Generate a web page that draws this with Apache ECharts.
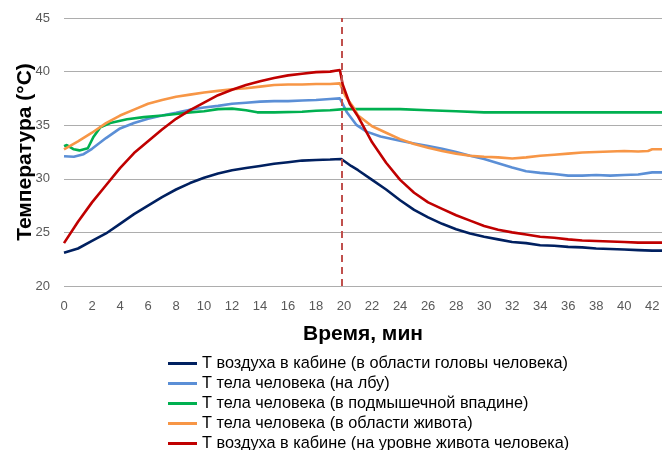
<!DOCTYPE html>
<html>
<head>
<meta charset="utf-8">
<script src="https://cdn.jsdelivr.net/npm/echarts@6/dist/echarts.min.js"></script>
<style>
  html, body { margin: 0; padding: 0; background: #fff; }
  #chart { width: 662px; height: 450px; }
</style>
</head>
<body>
<div id="chart"></div>
<script>
// Время (мин) и температура (°C) по каждому датчику
const airHead = [
  [0,23.1],[1,23.5],[2,24.2],[3,24.9],[4,25.8],[5,26.7],[6,27.5],[7,28.3],[8,29.0],[9,29.6],
  [10,30.1],[11,30.5],[12,30.8],[13,31.0],[14,31.2],[15,31.4],[16,31.55],[17,31.7],[18,31.75],[19,31.8],
  [19.8,31.85],[20.5,31.2],[21,30.8],[22,29.9],[23,29.0],[24,28.0],[25,27.1],[26,26.4],[27,25.8],[28,25.3],
  [29,24.9],[30,24.6],[31,24.35],[32,24.1],[33,24.0],[34,23.8],[35,23.75],[36,23.65],[37,23.6],[38,23.5],
  [39,23.45],[40,23.4],[41,23.35],[42,23.3],[42.7,23.3]
];
const bodyForehead = [
  [0,32.1],[0.7,32.05],[1.4,32.3],[2,32.8],[3,33.8],[4,34.7],[5,35.2],[6,35.6],[7,35.9],[8,36.15],
  [9,36.45],[10,36.65],[11,36.8],[12,37.0],[13,37.1],[14,37.2],[15,37.25],[16,37.25],[17,37.3],[18,37.35],
  [19,37.45],[19.7,37.5],[20.2,36.2],[20.9,35.0],[21.6,34.4],[22.6,33.95],[24,33.55],[25,33.3],[26,33.05],[27,32.8],
  [28,32.5],[29,32.15],[30,31.85],[31,31.45],[32,31.05],[33,30.7],[34,30.55],[35,30.45],[36,30.3],[37,30.3],
  [38,30.35],[39,30.3],[40,30.35],[41,30.4],[42,30.6],[42.7,30.6]
];
const bodyArmpit = [
  [0,33.05],[0.2,33.15],[0.7,32.75],[1.1,32.65],[1.7,32.85],[2.1,33.9],[2.6,34.8],[3.3,35.2],[4.5,35.55],[5.7,35.75],
  [7,35.9],[8,36.05],[9,36.2],[10,36.3],[11,36.5],[12,36.55],[13,36.4],[13.8,36.2],[15,36.2],[17,36.25],
  [18,36.35],[19,36.4],[20,36.5],[22,36.5],[24,36.5],[26,36.4],[28,36.3],[30,36.2],[32,36.2],[36,36.2],
  [40,36.2],[42.7,36.2]
];
const bodyBelly = [
  [0,32.75],[1,33.5],[2,34.3],[3,35.2],[4,35.9],[5,36.45],[6,37.0],[7,37.35],[8,37.65],[9,37.85],
  [10,38.05],[11,38.2],[12,38.35],[13,38.45],[14,38.6],[15,38.75],[16,38.8],[17,38.8],[18,38.85],[19,38.85],
  [19.7,38.9],[20.1,37.7],[20.7,36.6],[21,35.9],[22,34.9],[23,34.3],[24,33.7],[25,33.25],[26,32.9],[27,32.6],
  [28,32.35],[29,32.15],[30,32.05],[31,32.0],[32,31.9],[33,32.0],[34,32.15],[35,32.25],[36,32.35],[37,32.45],
  [38,32.5],[39,32.55],[40,32.6],[41,32.55],[41.7,32.6],[42,32.75],[42.7,32.75]
];
const airBelly = [
  [0,24.0],[1,26.0],[2,27.8],[3,29.4],[4,31.0],[5,32.4],[6,33.5],[7,34.6],[8,35.6],[9,36.4],
  [10,37.1],[11,37.8],[12,38.3],[13,38.75],[14,39.1],[15,39.4],[16,39.65],[17,39.8],[18,39.95],[19,40.0],
  [19.7,40.15],[19.9,38.8],[20.4,37.0],[21,35.8],[22,33.4],[23,31.5],[24,29.9],[25,28.7],[26,27.8],[27,27.2],
  [28,26.6],[29,26.1],[30,25.6],[31,25.25],[32,25.0],[33,24.8],[34,24.6],[35,24.5],[36,24.35],[37,24.25],
  [38,24.2],[39,24.15],[40,24.1],[41,24.05],[42,24.05],[42.7,24.05]
];

// Момент переключения режима, мин
const switchTime = 19.8;

const seriesNames = [
  'Т воздуха в кабине (в области головы человека)',
  'Т тела человека (на лбу)',
  'Т тела человека (в подмышечной впадине)',
  'Т тела человека (в области живота)',
  'Т воздуха в кабине (на уровне живота человека)'
];
const seriesData = [airHead, bodyForehead, bodyArmpit, bodyBelly, airBelly];
const seriesColors = ['#002060', '#5B8FD6', '#00B050', '#F79646', '#C00000'];

const labelFont = 'Liberation Sans, Arial, sans-serif';

const series = seriesData.map((d, i) => ({
  name: seriesNames[i],
  type: 'line',
  data: d,
  showSymbol: false,
  symbol: 'none',
  lineStyle: { width: 2.6, color: seriesColors[i] },
  itemStyle: { color: seriesColors[i] },
  z: 3 + i
}));

// Вертикальная пунктирная линия — момент переключения
series[4].markLine = {
  silent: true,
  symbol: 'none',
  label: { show: false },
  lineStyle: { type: [7, 5], color: '#C0504D', width: 2 },
  data: [{ xAxis: switchTime }],
  z: 10
};

const chart = echarts.init(document.getElementById('chart'), null, { renderer: 'canvas' });
chart.setOption({
  animation: false,
  backgroundColor: '#ffffff',
  grid: { left: 64, right: 0, top: 18, bottom: 164, containLabel: false, outerBoundsMode: 'none' },
  xAxis: {
    type: 'value',
    min: 0,
    max: 42.7,
    interval: 2,
    name: 'Время, мин',
    nameLocation: 'middle',
    nameGap: 38,
    nameMoveOverlap: false,
    nameTextStyle: { fontFamily: labelFont, fontSize: 21, fontWeight: 'bold', color: '#000' },
    axisLine: { show: false },
    axisTick: { show: false },
    splitLine: { show: false },
    axisLabel: { color: '#595959', fontSize: 13, fontFamily: labelFont, margin: 14, showMaxLabel: false }
  },
  yAxis: {
    type: 'value',
    min: 20,
    max: 45,
    interval: 5,
    name: 'Температура (°C)',
    nameLocation: 'middle',
    nameGap: 28,
    nameMoveOverlap: false,
    nameTextStyle: { fontFamily: labelFont, fontSize: 21, fontWeight: 'bold', color: '#000' },
    axisLine: { show: false },
    axisTick: { show: false },
    splitLine: { lineStyle: { color: '#ADADAD', width: 1 } },
    axisLabel: { color: '#595959', fontSize: 13, fontFamily: labelFont, margin: 14 }
  },
  legend: {
    orient: 'vertical',
    left: 168,
    top: 355.5,
    height: 120,
    padding: 0,
    data: seriesNames,
    icon: 'rect',
    itemWidth: 29,
    itemHeight: 3,
    itemGap: 4,
    textStyle: { fontFamily: labelFont, fontSize: 16.3, color: '#000', lineHeight: 16 }
  },
  series: series
});
</script>
</body>
</html>
